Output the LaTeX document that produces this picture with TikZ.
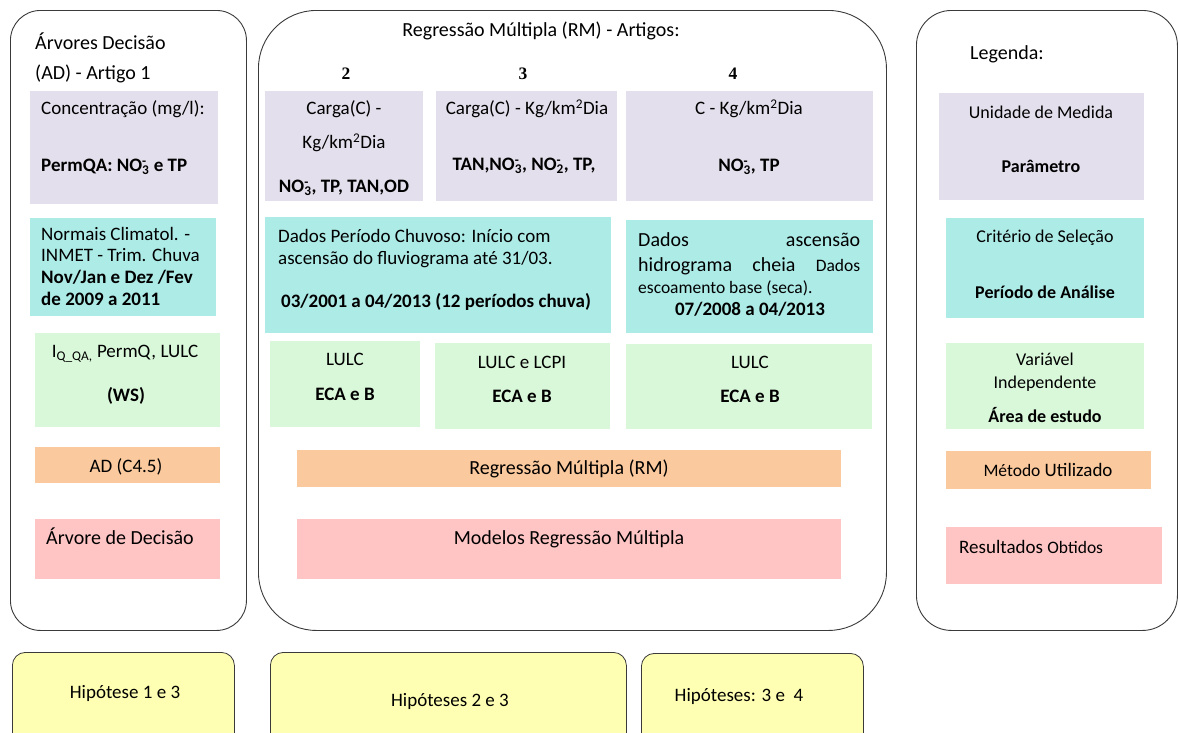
\documentclass[tikz,border=0pt]{standalone}
\usepackage{fontspec}
\setmainfont{Carlito}
\newfontfamily\numfont{Liberation Serif}
\definecolor{cPurple}{HTML}{E4DFEC}
\definecolor{cTeal}{HTML}{ADEBE7}
\definecolor{cGreen}{HTML}{D9F7D9}
\definecolor{cOrange}{HTML}{FAC99D}
\definecolor{cPink}{HTML}{FFC5C5}
\definecolor{cYellow}{HTML}{FFFFB3}
\definecolor{cLine}{HTML}{3A3A3A}
\newcommand{\fs}{\fontsize{19}{22}\selectfont}
\newcommand{\fsl}{\fontsize{20}{24}\selectfont}
\newcommand{\fsg}{\fontsize{18}{21}\selectfont}
\newcommand{\fsm}{\fontsize{16.5}{19}\selectfont}
\newcommand{\fsn}{\fontsize{17.5}{20}\selectfont}
\newcommand{\nothree}{NO\rlap{\textsuperscript{-}}\textsubscript{3}}
\newcommand{\notwo}{NO\rlap{\textsuperscript{-}}\textsubscript{2}}
\newcommand{\kmtwo}{km\textsuperscript{2}}
% a filled cell: name, style, x, y, width, height
\newcommand{\cellbox}[6]{\node[#2, minimum width=#5pt, minimum height=#6pt] (#1) at (#3,#4) {};}
\begin{document}
\begin{tikzpicture}[x=1pt,y=-1pt,
  panel/.style={draw=cLine, line width=0.9pt, fill=white, anchor=north west, inner sep=0},
  cell/.style={anchor=north west, inner sep=0, draw=none},
  pcell/.style={cell, fill=cPurple},
  tcell/.style={cell, fill=cTeal},
  gcell/.style={cell, fill=cGreen},
  ocell/.style={cell, fill=cOrange},
  rcell/.style={cell, fill=cPink},
  hyp/.style={cell, fill=cYellow, draw=cLine, line width=0.8pt, rounded corners=13pt},
  txt/.style={inner sep=0, anchor=base, yshift=-6.5pt, font=\fs},
  ltxt/.style={txt, anchor=base west},
  btxt/.style={txt, font=\fs\bfseries},
  lbtxt/.style={btxt, anchor=base west},
  num/.style={inner sep=0, anchor=base, yshift=-6pt, font=\numfont\fontsize{17.5}{20}\selectfont\bfseries}]
\useasboundingbox (0,0) rectangle (1179,732);
\clip (0,0) rectangle (1179,732);

% three framing panels
\node[panel, rounded corners=30pt, minimum width=236pt, minimum height=620pt] (adpanel) at (10,10) {};
\node[panel, rounded corners=58pt, minimum width=628pt, minimum height=620pt] (rmpanel) at (258,10) {};
\node[panel, rounded corners=35pt, minimum width=261pt, minimum height=620pt] (legpanel) at (916,10) {};

% decision tree column
\node[ltxt, font=\fsl] (adtitlea) at (35,43) {Árvores Decisão};
\node[ltxt, font=\fsl] (adtitleb) at (35,73) {(AD) - Artigo 1};
\cellbox{p1}{pcell}{30}{91}{188}{113}
\cellbox{t1}{tcell}{30}{218}{186}{98}
\cellbox{g1}{gcell}{35}{333}{185}{94}
\cellbox{o1}{ocell}{35}{447}{185}{36}
\cellbox{r1}{rcell}{35}{519}{185}{60}
\node[ltxt] (p1a) at (41,108) {Concentração (mg/l):};
\node[lbtxt] (p1b) at (41,165) {PermQA: \nothree{} e TP};
\node[ltxt] (t1a) at (41,234) {Normais Climatol. -};
\node[ltxt] (t1b) at (41,255) {INMET - Trim. Chuva};
\node[lbtxt] (t1c) at (41,277) {Nov/Jan e Dez /Fev};
\node[lbtxt] (t1d) at (41,299) {de 2009 a 2011};
\node[txt] (g1a) at (125,351) {I\textsubscript{Q\_QA,} PermQ, LULC};
\node[btxt] (g1b) at (126,395) {(WS)};
\node[txt] (o1a) at (126,466) {AD (C4.5)};
\node[ltxt, font=\fsl] (r1a) at (46,538) {Árvore de Decisão};

% multiple regression column
\node[txt, font=\fsl] (rmtitle) at (541,30) {Regressão Múltipla (RM) - Artigos:};
\node[num] (n2) at (346,73) {2};
\node[num] (n3) at (523,73) {3};
\node[num] (n4) at (733,73) {4};
\cellbox{p2}{pcell}{265}{91}{158}{110}
\cellbox{p3}{pcell}{436}{91}{181}{110}
\cellbox{p4}{pcell}{626}{91}{247}{110}
\cellbox{t2}{tcell}{265}{217}{346}{116}
\cellbox{t4}{tcell}{626}{220}{247}{113}
\cellbox{g2}{gcell}{270}{341}{150}{86}
\cellbox{g3}{gcell}{435}{343}{175}{86}
\cellbox{g4}{gcell}{626}{344}{246}{85}
\cellbox{o2}{ocell}{297}{450}{544}{37}
\cellbox{r2}{rcell}{297}{519}{544}{60}
\node[txt] (p2a) at (344,108) {Carga(C) -};
\node[txt] (p2b) at (344,142) {Kg/\kmtwo Dia};
\node[btxt] (p2c) at (344,186) {\nothree, TP, TAN,OD};
\node[txt] (p3a) at (527,108) {Carga(C) - Kg/\kmtwo Dia};
\node[btxt] (p3b) at (524,164) {TAN,\nothree, \notwo, TP,};
\node[txt] (p4a) at (749,108) {C - Kg/\kmtwo Dia};
\node[btxt] (p4b) at (749,165) {\nothree, TP};
\node[ltxt] (t2a) at (278,236) {Dados Período Chuvoso: Início com};
\node[ltxt] (t2b) at (278,258) {ascensão do fluviograma até 31/03.};
\node[lbtxt] (t2c) at (281,301) {03/2001 a 04/2013 (12 períodos chuva)};
\node[ltxt, font=\fsl] (t4a) at (638,240) {\makebox[222pt][s]{Dados ascensão}};
\node[ltxt, font=\fsl] (t4b) at (638,265) {\makebox[222pt][s]{hidrograma cheia {\fsn Dados}}};
\node[ltxt, font=\fsn] (t4c) at (638,287) {escoamento base (seca).};
\node[btxt] (t4d) at (750,309) {07/2008 a 04/2013};
\node[txt] (g2a) at (345,359) {LULC};
\node[btxt] (g2b) at (345,394) {ECA e B};
\node[txt] (g3a) at (522,362) {LULC e LCPI};
\node[btxt] (g3b) at (522,396) {ECA e B};
\node[txt] (g4a) at (750,362) {LULC};
\node[btxt] (g4b) at (750,396) {ECA e B};
\node[txt, font=\fsl] (o2a) at (569,468) {Regressão Múltipla (RM)};
\node[txt, font=\fsl] (r2a) at (569,538) {Modelos Regressão Múltipla};

% legend column
\node[ltxt, font=\fsl] (legtitle) at (970,53) {Legenda:};
\cellbox{lp}{pcell}{939}{93}{205}{107}
\cellbox{lt}{tcell}{946}{218}{198}{100}
\cellbox{lg}{gcell}{946}{343}{198}{86}
\cellbox{lo}{ocell}{946}{451}{205}{38}
\cellbox{lr}{rcell}{946}{527}{216}{57}
\node[txt, font=\fsg] (lpa) at (1041,112) {Unidade de Medida};
\node[btxt, font=\fsg\bfseries] (lpb) at (1041,166) {Parâmetro};
\node[txt, font=\fsg] (lta) at (1045,236) {Critério de Seleção};
\node[btxt, font=\fsg\bfseries] (ltb) at (1045,292) {Período de Análise};
\node[txt, font=\fsg] (lga) at (1045,359) {Variável};
\node[txt, font=\fsg] (lgb) at (1045,382) {Independente};
\node[btxt, font=\fsg\bfseries] (lgc) at (1045,416) {Área de estudo};
\node[txt] (loa) at (1048,470) {{\fsn Método} Utilizado};
\node[ltxt] (lra) at (959,547) {Resultados {\fsn Obtidos}};

% hypotheses
\cellbox{y1}{hyp}{12}{652}{222}{100}
\cellbox{y2}{hyp}{270}{652}{356}{100}
\cellbox{y3}{hyp}{641}{653}{222}{100}
\node[txt] (y1a) at (125,692) {Hipótese 1 e 3};
\node[txt] (y2a) at (450,700) {Hipóteses 2 e 3};
\node[txt] (y3a) at (739,695) {Hipóteses: 3 e~~4};
\end{tikzpicture}
\end{document}
